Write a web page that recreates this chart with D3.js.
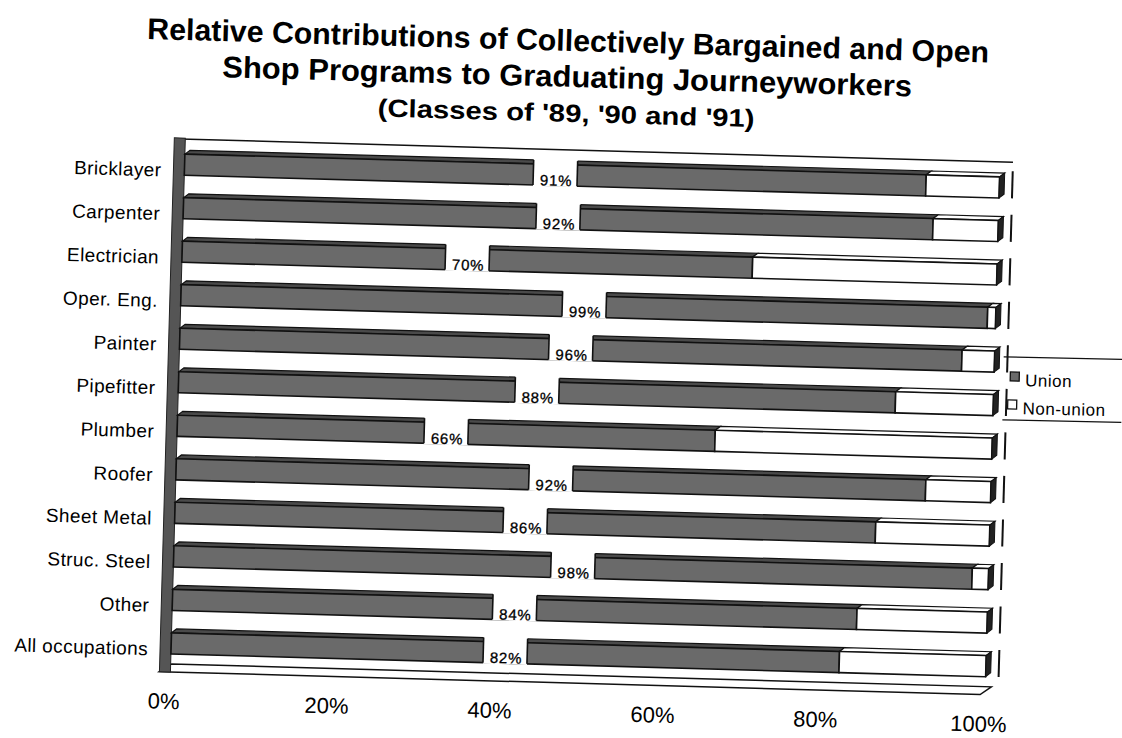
<!DOCTYPE html>
<html lang="en">
  <head>
    <title>Union vs open shop journeyworkers</title>
    <meta charset="utf-8"/>
    <script type="text/javascript" src="https://cdn.jsdelivr.net/npm/d3@7"></script>
    <style>
     body { margin: 0; background: #fff; }
     svg { display: block; font-family: Arial, "Liberation Sans", sans-serif; }
    </style>
  </head>
  <body>
    <script type="text/javascript">
     // data ---------------------------------------------------------------------------
     let categories = ["Bricklayer", "Carpenter", "Electrician", "Oper. Eng.", "Painter",
                       "Pipefitter", "Plumber", "Roofer", "Sheet Metal", "Struc. Steel",
                       "Other", "All occupations"];
     let unionPct    = [91, 92, 70, 99, 96, 88, 66, 92, 86, 98, 84, 82];
     let nonUnionPct = [ 9,  8, 30,  1,  4, 12, 34,  8, 14,  2, 16, 18];
     let seriesNames = ["Union", "Non-union"];
     let xTicks = [0, 20, 40, 60, 80, 100];
     let titleLines = ["Relative Contributions of Collectively Bargained and Open",
                       "Shop Programs to Graduating Journeyworkers",
                       "(Classes of '89, '90 and '91)"];

     let w = 1122, h = 738;
     let dark = "#6a6a6a";
     let dx = 5, dy = -4;   // 3d depth of the bars

     let svg = d3.select("body").append("svg")
                 .attr("width", w)
                 .attr("height", h);

     // the scan is tilted a little, so everything sits in a rotated group
     let g = svg.append("g").attr("transform", "rotate(1.6, 180, 150)");

     let x = d3.scaleLinear().domain([0, 100]).range([185, 1000]);
     let y = d3.scaleBand().domain(categories)
               .range([154, 654])
               .paddingInner(0.515)
               .paddingOuter(0);
     let bh = y.bandwidth();

     let rows = categories.map((c, i) => ({cat: c, "Union": unionPct[i], "Non-union": nonUnionPct[i]}));
     let stacked = d3.stack().keys(seriesNames)(rows);

     // title ----------------------------------------------------------------------------
     let titleSizes = [30, 30, 25];
     let titleY = [40, 76, 111];
     let titleLen = [842, 690, 377];
     g.selectAll("text.title")
      .data(titleLines)
      .enter()
      .append("text")
      .attr("class", "title")
      .attr("x", 565)
      .attr("y", (d, i) => titleY[i])
      .attr("text-anchor", "middle")
      .attr("font-weight", "bold")
      .attr("font-size", (d, i) => titleSizes[i] + "px")
      .attr("textLength", (d, i) => titleLen[i])
      .attr("lengthAdjust", "spacingAndGlyphs")
      .text(d => d);

     // walls ----------------------------------------------------------------------------
     // back top edge
     g.append("line")
      .attr("x1", 180).attr("y1", 139)
      .attr("x2", 1013).attr("y2", 139)
      .attr("stroke", "#111").attr("stroke-width", 1.5);

     // right back edge, seen between bars
     g.selectAll("line.rwall")
      .data(categories)
      .enter()
      .append("line")
      .attr("class", "rwall")
      .attr("x1", 1013).attr("x2", 1013)
      .attr("y1", d => y(d) - 6)
      .attr("y2", d => y(d) + bh)
      .attr("stroke", "#111").attr("stroke-width", 2);

     // floor
     let fy = 667;
     g.append("path")
      .attr("d", `M174,${fy + 5} L995,${fy + 5} L1006,${fy - 3} L186,${fy - 3} Z`)
      .attr("fill", "#fff").attr("stroke", "#111").attr("stroke-width", 1.5);

     // left wall
     g.append("rect")
      .attr("x", 174).attr("y", 138)
      .attr("width", 11).attr("height", fy + 5 - 138)
      .attr("fill", "#555").attr("stroke", "#222").attr("stroke-width", 1);

     // bars -----------------------------------------------------------------------------
     let fills = {"Union": dark, "Non-union": "#fff"};
     let tops = {"Union": "#4a4a4a", "Non-union": "#fff"};

     stacked.forEach(s => {
       let grp = g.append("g");
       // top face
       grp.selectAll("path.top")
          .data(s)
          .enter()
          .append("path")
          .attr("d", d => {
            let x0 = x(d[0]), x1 = x(d[1]), yy = y(d.data.cat);
            return `M${x0},${yy} L${x0 + dx},${yy + dy} L${x1 + dx},${yy + dy} L${x1},${yy} Z`;
          })
          .attr("fill", tops[s.key])
          .attr("stroke", "#111").attr("stroke-width", 1.2);
       // front face
       grp.selectAll("rect")
          .data(s)
          .enter()
          .append("rect")
          .attr("x", d => x(d[0]))
          .attr("y", d => y(d.data.cat))
          .attr("width", d => x(d[1]) - x(d[0]))
          .attr("height", bh)
          .attr("fill", fills[s.key])
          .attr("stroke", "#111").attr("stroke-width", 1.6);
     });

     // right side face of each bar
     g.selectAll("path.side")
      .data(categories)
      .enter()
      .append("path")
      .attr("class", "side")
      .attr("d", d => {
        let x1 = x(100), yy = y(d);
        return `M${x1},${yy} L${x1 + dx},${yy + dy} L${x1 + dx},${yy + bh + dy} L${x1},${yy + bh} Z`;
      })
      .attr("fill", "#222").attr("stroke", "#111");

     // data labels in the middle of the union part
     let lw = 44;
     let labels = g.selectAll("g.lab")
                   .data(stacked[0])
                   .enter()
                   .append("g")
                   .attr("class", "lab")
                   .attr("transform", d => `translate(${x(d[1] / 2)}, ${y(d.data.cat)})`);
     labels.append("rect")
           .attr("x", -lw / 2).attr("y", dy - 2)
           .attr("width", lw).attr("height", bh - dy + 3)
           .attr("fill", "#fff");
     labels.append("line")
           .attr("x1", -lw / 2).attr("x2", -lw / 2)
           .attr("y1", dy).attr("y2", bh)
           .attr("stroke", "#111").attr("stroke-width", 1.6);
     labels.append("line")
           .attr("x1", lw / 2).attr("x2", lw / 2)
           .attr("y1", dy).attr("y2", bh)
           .attr("stroke", "#111").attr("stroke-width", 1.6);
     labels.append("text")
           .attr("x", 1).attr("y", bh)
           .attr("text-anchor", "middle")
           .attr("font-size", "15px")
           .attr("letter-spacing", "0.8px")
           .attr("stroke", "#000").attr("stroke-width", 0.3)
           .text(d => d.data["Union"] + "%");

     // category labels
     g.selectAll("text.cat")
      .data(categories)
      .enter()
      .append("text")
      .attr("class", "cat")
      .attr("x", 162)
      .attr("y", d => y(d) + 23)
      .attr("text-anchor", "end")
      .attr("font-size", "19px")
      .attr("letter-spacing", "0.4px")
      .text(d => d);

     // x tick labels
     g.selectAll("text.tick")
      .data(xTicks)
      .enter()
      .append("text")
      .attr("class", "tick")
      .attr("x", d => x(d) - 6)
      .attr("y", 709)
      .attr("text-anchor", "middle")
      .attr("font-size", "22px")
      .text(d => d + "%");

     // legend (sits outside the plot, drawn on its own) --------------------------------
     let lg = svg.append("g").attr("transform", "rotate(1.2, 1060, 390)");
     lg.append("line")
       .attr("x1", 1003).attr("y1", 358).attr("x2", 1122).attr("y2", 358)
       .attr("stroke", "#111").attr("stroke-width", 1.3);
     lg.append("line")
       .attr("x1", 1003).attr("y1", 421).attr("x2", 1122).attr("y2", 421)
       .attr("stroke", "#111").attr("stroke-width", 1.3);
     let items = lg.selectAll("g.item")
                   .data(seriesNames)
                   .enter()
                   .append("g")
                   .attr("class", "item")
                   .attr("transform", (d, i) => `translate(${1010 - i * 2}, ${373 + i * 28})`);
     items.append("rect")
          .attr("width", 9).attr("height", 9)
          .attr("fill", d => fills[d])
          .attr("stroke", "#111").attr("stroke-width", 1.3);
     items.append("text")
          .attr("x", 15).attr("y", 14)
          .attr("font-size", "17px")
          .attr("letter-spacing", "0.5px")
          .text(d => d);
    </script>
  </body>
</html>
